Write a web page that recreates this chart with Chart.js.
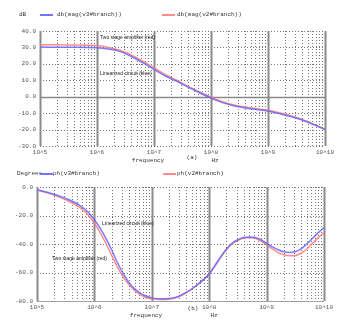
<!DOCTYPE html>
<html>
<head>
<meta charset="utf-8">
<script src="https://cdn.jsdelivr.net/npm/chart.js@4.4.1/dist/chart.umd.min.js"></script>
<style>
  body { margin: 0; background: #fff; width: 354px; height: 333px; overflow: hidden; position: relative; }
  .box { position: absolute; left: 0; width: 354px; }
  #topBox { top: 0; height: 165px; }
  #botBox { top: 165px; height: 168px; }
  .t { position: absolute; white-space: nowrap; line-height: 1; color: #333; }
  .mono { font-family: "Liberation Mono", "DejaVu Sans Mono", monospace; font-size: 6px; }
  .note { font-family: "Liberation Sans", Arial, sans-serif; font-size: 5px; color: #222; }
  .c { transform: translateX(-50%); }
  .key { position: absolute; height: 2px; }
</style>
</head>
<body>
<div class="box" id="topBox"><canvas id="chartMag"></canvas></div>
<div class="box" id="botBox"><canvas id="chartPhase"></canvas></div>

<!-- legendas / textos fixos -->
<div class="t mono" style="left:19px;top:12px">dB</div>
<div class="key" style="left:40px;top:14px;width:13px;background:#7474ff"></div>
<div class="t mono" style="left:57px;top:12px">db(mag(v3#branch))</div>
<div class="key" style="left:162px;top:14px;width:13px;background:#ff8a8a"></div>
<div class="t mono" style="left:177px;top:12px">db(mag(v2#branch))</div>
<div class="t note" style="left:100px;top:35px">Two stage amplifier (red)</div>
<div class="t note" style="left:100px;top:71px">Linearized circuit (blue)</div>
<div class="t mono c" style="left:148px;top:158px">frequency</div>
<div class="t mono c" style="left:192px;top:155px">(a)</div>
<div class="t mono c" style="left:215px;top:158px">Hz</div>

<div class="t mono" style="left:17px;top:171px">Degrees</div>
<div class="key" style="left:40px;top:173px;width:13px;background:#7474ff"></div>
<div class="t mono" style="left:53px;top:171px">ph(v3#branch)</div>
<div class="key" style="left:163px;top:173px;width:13px;background:#ff8a8a"></div>
<div class="t mono" style="left:177px;top:171px">ph(v2#branch)</div>
<div class="t note" style="left:102px;top:221px">Linearized circuit (blue)</div>
<div class="t note" style="left:52px;top:256px">Two stage amplifier (red)</div>
<div class="t mono c" style="left:146px;top:313px">frequency</div>
<div class="t mono c" style="left:193px;top:306px">(b)</div>
<div class="t mono c" style="left:214px;top:313px">Hz</div>

<script>
// --- Dados (log10 da frequência em Hz) ---
const magFreq = [5.0, 5.5, 6.0, 6.2, 6.4, 6.6, 6.8, 7.0, 7.2, 7.4, 7.6, 7.8, 8.0, 8.2, 8.4, 8.6, 8.8, 9.0, 9.2, 9.4, 9.6, 9.8, 10.0];
const magV3 = [30.2, 30.1, 29.8, 29.0, 27.6, 24.5, 20.8, 16.6, 12.6, 9.4, 5.8, 2.4, -0.8, -3.6, -5.5, -6.8, -7.8, -8.8, -10.3, -12.0, -14.2, -17.0, -20.0];
const magV2 = [31.6, 31.5, 31.2, 30.0, 28.3, 25.4, 21.6, 17.5, 13.4, 10.0, 6.3, 2.9, -0.3, -3.1, -5.0, -6.3, -7.3, -8.3, -9.8, -11.6, -13.8, -16.7, -19.8];

const phaseFreq = [5.0, 5.25, 5.5, 5.75, 5.9, 6.0, 6.1, 6.2, 6.3, 6.4, 6.5, 6.6, 6.7, 6.8, 6.9, 7.0, 7.15, 7.3, 7.45, 7.6, 7.75, 7.9, 8.0, 8.1, 8.2, 8.3, 8.4, 8.5, 8.6, 8.7, 8.8, 8.9, 9.0, 9.1, 9.2, 9.3, 9.4, 9.5, 9.6, 9.7, 9.8, 9.9, 10.0];
const phaseV3 = [-2, -4.5, -8, -13, -18, -23, -29, -36, -44, -53, -60.5, -67, -71.5, -74.5, -76.5, -77.8, -78.5, -78.3, -77, -74, -70, -65, -61, -55, -49, -43.5, -39.5, -37, -35.5, -35, -35.5, -37, -39.5, -42, -44, -45.5, -46, -45.5, -43.5, -40, -36, -32, -28.5];
const phaseV2 = [-2, -5, -9, -14.5, -20, -25.5, -32, -39.5, -48, -56, -63, -68.5, -72.5, -75.5, -77.5, -78.5, -79, -78.7, -77.3, -74.2, -70, -65, -61, -55.5, -49.5, -44, -40, -37.5, -36, -35.5, -36, -38, -40.5, -43.5, -46, -47.5, -48.2, -48, -46.5, -43.5, -39.5, -35.5, -32];

const decades = [5, 6, 7, 8, 9, 10];

const BLUE = 'rgba(100, 100, 255, 0.85)';
const RED = 'rgba(255, 120, 120, 0.85)';
const FONT = { family: '"Liberation Mono", "DejaVu Sans Mono", monospace', size: 6 };

function pts(xs, ys) {
    return xs.map((x, i) => ({ x: x, y: ys[i] }));
}

// Grade estilo spice: décadas sólidas, subdivisões pontilhadas
const spiceGrid = {
    id: 'spiceGrid',
    beforeDatasetsDraw(chart, args, opts) {
        const { ctx, chartArea: a, scales: { x, y } } = chart;
        ctx.save();
        // linhas horizontais
        y.ticks.forEach(t => {
            const py = Math.round(y.getPixelForValue(t.value)) + 0.5;
            ctx.beginPath();
            if (t.value === 0 && opts.solidZero) {
                ctx.setLineDash([]);
                ctx.strokeStyle = '#8a8a8a';
                ctx.lineWidth = 1.5;
            } else if (t.value === y.min && opts.solidBottom) {
                ctx.setLineDash([]);
                ctx.strokeStyle = '#a0a0a0';
                ctx.lineWidth = 1;
            } else {
                ctx.setLineDash([1, 2]);
                ctx.strokeStyle = '#777';
                ctx.lineWidth = 1;
            }
            ctx.moveTo(a.left, py);
            ctx.lineTo(a.right, py);
            ctx.stroke();
        });
        // linhas verticais
        decades.forEach(d => {
            for (let k = 1; k <= 9; k++) {
                const v = d + Math.log10(k);
                if (v > x.max + 1e-9) break;
                const px = Math.round(x.getPixelForValue(v)) + 0.5;
                ctx.beginPath();
                if (k === 1) {
                    ctx.setLineDash([]);
                    ctx.strokeStyle = '#8a8a8a';
                    ctx.lineWidth = 2;
                } else {
                    ctx.setLineDash([1, 2]);
                    ctx.strokeStyle = '#777';
                    ctx.lineWidth = 1;
                }
                ctx.moveTo(px, a.top);
                ctx.lineTo(px, a.bottom);
                ctx.stroke();
            }
        });
        ctx.restore();
    }
};

function makeChart(canvasId, xs, v3, v2, yMin, yMax, step, layout, gridOpts) {
    return new Chart(document.getElementById(canvasId), {
        type: 'line',
        data: {
            datasets: [
                { label: 'v3', data: pts(xs, v3), borderColor: BLUE, borderWidth: 1.5, pointRadius: 0, cubicInterpolationMode: 'monotone' },
                { label: 'v2', data: pts(xs, v2), borderColor: RED, borderWidth: 1.5, pointRadius: 0, cubicInterpolationMode: 'monotone' }
            ]
        },
        options: {
            responsive: true,
            maintainAspectRatio: false,
            animation: false,
            layout: { padding: { top: layout.top, right: layout.right, left: 0, bottom: 0 } },
            plugins: { legend: { display: false }, tooltip: { enabled: false }, spiceGrid: gridOpts },
            scales: {
                x: {
                    type: 'linear', min: 5, max: 10,
                    grid: { display: false, drawTicks: false },
                    border: { display: false },
                    afterBuildTicks: s => { s.ticks = decades.map(v => ({ value: v })); },
                    afterFit: s => { s.height = layout.xh; },
                    ticks: { padding: 3, maxRotation: 0, autoSkip: false, color: '#555', font: FONT, callback: v => '10^' + v }
                },
                y: {
                    min: yMin, max: yMax,
                    grid: { display: false, drawTicks: false },
                    border: { display: false },
                    afterFit: s => { s.width = layout.yw; },
                    ticks: { stepSize: step, padding: 4, color: '#555', font: FONT, callback: v => v.toFixed(1) }
                }
            }
        },
        plugins: [spiceGrid]
    });
}

document.addEventListener('DOMContentLoaded', () => {
    makeChart('chartMag', magFreq, magV3, magV2, -30, 40, 10,
        { top: 31, right: 29, xh: 19, yw: 40 }, { solidZero: true, solidBottom: false });
    makeChart('chartPhase', phaseFreq, phaseV3, phaseV2, -80, 0, 20,
        { top: 22, right: 30, xh: 32, yw: 37 }, { solidZero: false, solidBottom: true });
});
</script>
</body>
</html>
